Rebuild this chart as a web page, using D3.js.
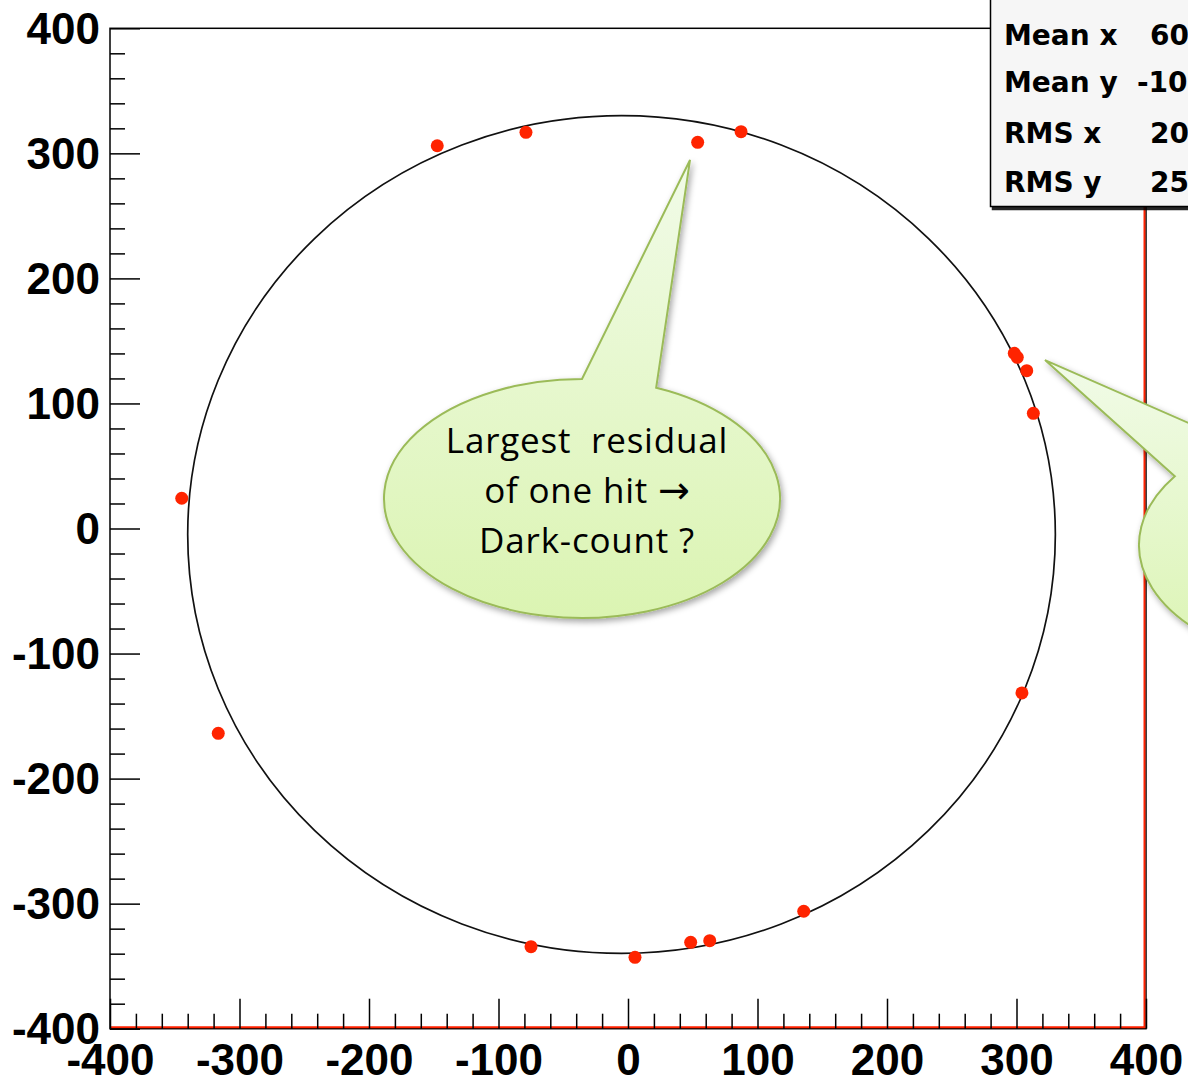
<!DOCTYPE html>
<html>
<head>
<meta charset="utf-8">
<script src="https://cdn.jsdelivr.net/npm/d3@7"></script>
<style>
  html, body { margin: 0; padding: 0; background: #ffffff; }
  svg { display: block; }
</style>
</head>
<body>
<svg id="chart" width="1188" height="1080"></svg>
<script>
// Hit positions on the photodetector plane (mm)
const hitX = [-147.3, -78.8, 53.8, 87.3, -344.6, -316.4, 298.3, 300.6, 307.9, 313.0, 304.2, -74.9, 5.4, 48.4, 63.1, 135.7];
const hitY = [306.1, 316.8, 308.8, 317.3, 24.2, -163.8, 140.1, 136.9, 126.2, 92.1, -131.5, -334.4, -342.9, -330.9, -329.6, -306.1];

// Fitted ring: centre and radius (mm)
const ringCenter = [-5, -4.8];
const ringRadius = 335;

// Axis ticks
const majorTicks = [-400, -300, -200, -100, 0, 100, 200, 300, 400];
const minorTicks = d3.range(-400, 401, 20).filter(v => v % 100 !== 0);

// Statistics box
const statNames = ["Mean x", "Mean y", "RMS x", "RMS y"];
const statValues = ["60", "-10", "20", "25"];

// Callout texts and the hits they point at (mm)
const callout1Lines = ["Largest  residual", "of one hit \u2192", "Dark-count ?"];
const callout1Tip = [47.9, 294.7];
const callout2Tip = [322, 134.7];

const svg = d3.select("#chart");

const x = d3.scaleLinear().domain([-400, 400]).range([110, 1146]);
const y = d3.scaleLinear().domain([-400, 400]).range([1028.7, 28.3]);

const defs = svg.append("defs");
const grad = defs.append("linearGradient").attr("id", "bubbleFill")
  .attr("x1", 0).attr("y1", 0).attr("x2", 0).attr("y2", 1);
grad.append("stop").attr("offset", "0%").attr("stop-color", "#f1fbe8");
grad.append("stop").attr("offset", "100%").attr("stop-color", "#dbf4b2");
const shadow = defs.append("filter").attr("id", "bubbleShadow")
  .attr("x", "-20%").attr("y", "-20%").attr("width", "140%").attr("height", "140%");
shadow.append("feDropShadow").attr("dx", 2).attr("dy", 3).attr("stdDeviation", 3)
  .attr("flood-color", "#000").attr("flood-opacity", 0.35);
const boxShadow = defs.append("filter").attr("id", "boxShadow");
boxShadow.append("feDropShadow").attr("dx", 2).attr("dy", 3).attr("stdDeviation", 0)
  .attr("flood-color", "#000").attr("flood-opacity", 0.85);

// Frame
const x0 = x(-400), x1 = x(400), yTop = y(400), yBot = y(-400);
svg.append("rect")
  .attr("x", x0).attr("y", yTop).attr("width", x1 - x0).attr("height", yBot - yTop)
  .attr("fill", "none").attr("stroke", "#000").attr("stroke-width", 1.5);
// red outline of the histogram edges
svg.append("path")
  .attr("d", `M${x0},${yBot - 1.5}H${x1 - 1.5}V${yTop}`)
  .attr("fill", "none").attr("stroke", "#ff2200").attr("stroke-width", 2);

const tickFont = "'Liberation Sans', Arial, Helvetica, sans-serif";
const fmt = d => String(d);

// Y axis
const yMajor = svg.append("g").attr("transform", `translate(${x0},0)`)
  .call(d3.axisLeft(y).tickValues(majorTicks).tickSize(-30).tickPadding(10).tickFormat(fmt));
const yMinor = svg.append("g").attr("transform", `translate(${x0},0)`)
  .call(d3.axisLeft(y).tickValues(minorTicks).tickSize(-15).tickFormat(""));

// X axis
const xMajor = svg.append("g").attr("transform", `translate(0,${yBot})`)
  .call(d3.axisBottom(x).tickValues(majorTicks).tickSize(-30).tickPadding(15).tickFormat(fmt));
const xMinor = svg.append("g").attr("transform", `translate(0,${yBot})`)
  .call(d3.axisBottom(x).tickValues(minorTicks).tickSize(-15).tickFormat(""));

[yMajor, yMinor, xMajor, xMinor].forEach(g => {
  g.select(".domain").remove();
  g.selectAll(".tick line").attr("stroke", "#000").attr("stroke-width", 1.5);
  g.selectAll(".tick text")
    .attr("fill", "#000")
    .style("font-family", tickFont)
    .style("font-weight", "bold")
    .style("font-size", "44px");
});
yMajor.selectAll(".tick text").attr("dy", "0.34em");

// Fitted ring
svg.append("ellipse")
  .attr("cx", x(ringCenter[0])).attr("cy", y(ringCenter[1]))
  .attr("rx", x(ringCenter[0] + ringRadius) - x(ringCenter[0]))
  .attr("ry", y(ringCenter[1]) - y(ringCenter[1] + ringRadius))
  .attr("fill", "none").attr("stroke", "#111").attr("stroke-width", 1.7);

// Hits
svg.append("g").selectAll("circle")
  .data(hitX.map((v, i) => [v, hitY[i]]))
  .join("circle")
  .attr("cx", d => x(d[0])).attr("cy", d => y(d[1]))
  .attr("r", 6.5)
  .attr("fill", "#ff2400");

// Callout bubbles: ellipse with a wedge pointing at a hit
function bubblePath(cx, cy, rx, ry, a1, a2, tip) {
  const p = a => [cx + rx * Math.cos(a * Math.PI / 180), cy + ry * Math.sin(a * Math.PI / 180)];
  const b1 = p(a1), b2 = p(a2);
  return `M${b2[0]},${b2[1]}L${tip[0]},${tip[1]}L${b1[0]},${b1[1]}` +
         `A${rx},${ry} 0 1 0 ${b2[0]},${b2[1]}Z`;
}

const calloutG = svg.append("g");
const tip1 = [x(callout1Tip[0]), y(callout1Tip[1])];
calloutG.append("path")
  .attr("d", bubblePath(582, 498.5, 198, 119.5, -90, -68, tip1))
  .attr("fill", "url(#bubbleFill)").attr("stroke", "#9bbb59").attr("stroke-width", 2)
  .attr("filter", "url(#bubbleShadow)");

const tip2 = [x(callout2Tip[0]), y(callout2Tip[1])];
calloutG.append("path")
  .attr("d", bubblePath(1337, 545, 198, 120, -145, -121.5, tip2))
  .attr("fill", "url(#bubbleFill)").attr("stroke", "#9bbb59").attr("stroke-width", 2)
  .attr("filter", "url(#bubbleShadow)");

const calloutText = calloutG.append("text")
  .attr("text-anchor", "middle")
  .attr("xml:space", "preserve")
  .style("white-space", "pre")
  .style("font-family", "'Open Sans', 'Noto Sans', sans-serif")
  .style("font-size", "35px")
  .style("letter-spacing", "0.8px")
  .attr("fill", "#000");

calloutText.selectAll("tspan.line")
  .data(callout1Lines)
  .join("tspan").attr("class", "line")
  .attr("x", 587)
  .attr("y", (d, i) => 453 + i * 50)
  .each(function (d) {
    // the arrow glyph is set in a separate face so it reads like a symbol
    const parts = d.split("\u2192");
    const line = d3.select(this);
    line.append("tspan").text(parts[0]);
    if (parts.length > 1) {
      line.append("tspan")
        .style("font-family", "'DejaVu Sans', sans-serif")
        .style("font-size", "38px")
        .style("letter-spacing", "0px")
        .text("\u2192");
      line.append("tspan").text(parts[1]);
    }
  });

// Statistics box
const box = svg.append("g");
box.append("rect")
  .attr("x", 990.5).attr("y", -2).attr("width", 260).attr("height", 208.5)
  .attr("fill", "#f6f6f6").attr("stroke", "#000").attr("stroke-width", 1.5)
  .attr("filter", "url(#boxShadow)");
const statBase = [45, 92, 143, 192];
const valX = [1150, 1137, 1150, 1150];
const statFont = "'DejaVu Sans', Verdana, sans-serif";
box.selectAll("text.name")
  .data(statNames)
  .join("text").attr("class", "name")
  .attr("x", 1004).attr("y", (d, i) => statBase[i])
  .style("font-family", statFont).style("font-weight", "bold").style("font-size", "28px")
  .attr("fill", "#000")
  .text(d => d);
box.selectAll("text.val")
  .data(statValues)
  .join("text").attr("class", "val")
  .attr("x", (d, i) => valX[i]).attr("y", (d, i) => statBase[i])
  .style("font-family", statFont).style("font-weight", "bold").style("font-size", "28px")
  .attr("fill", "#000")
  .text(d => d);
</script>
</body>
</html>
